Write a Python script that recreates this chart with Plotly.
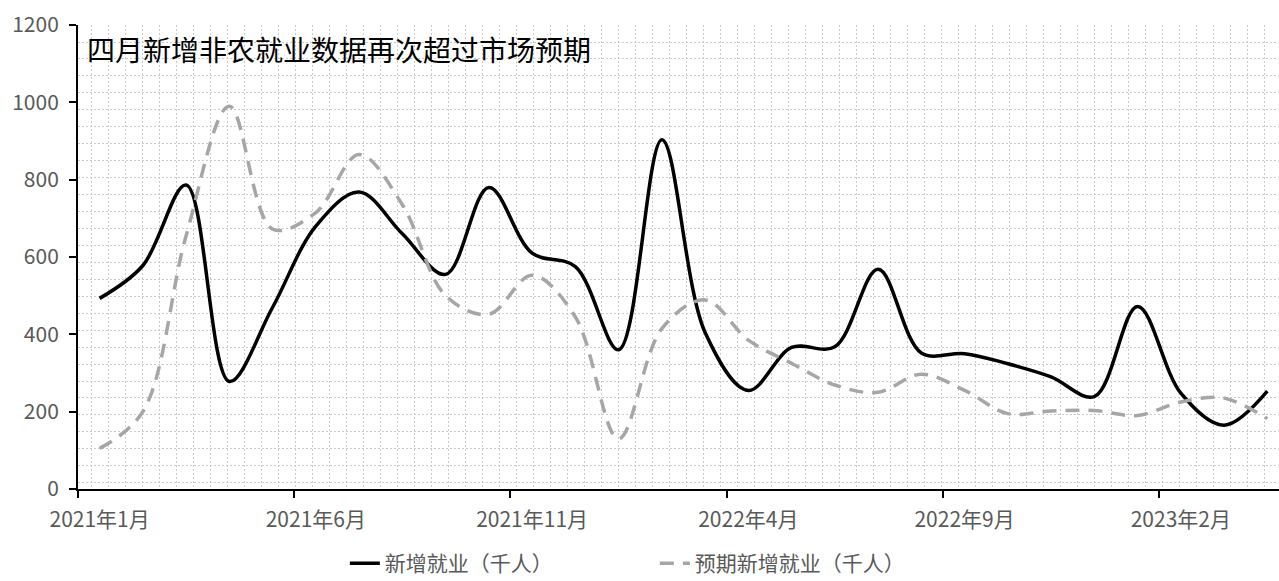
import plotly.graph_objects as go

# 月份（2021年1月 — 2023年4月）
months = [f"{y}年{m}月" for y, m in
          [(2021, m) for m in range(1, 13)] +
          [(2022, m) for m in range(1, 13)] +
          [(2023, m) for m in range(1, 5)]]

# 新增非农就业（千人）
actual = [493, 578, 786, 278, 470, 680, 768, 660, 555, 780, 610, 575,
          360, 903, 405, 255, 366, 368, 568, 352, 350, 324, 290, 239,
          472, 248, 165, 253]

# 市场预期（千人）
expected = [105, 200, 655, 990, 672, 715, 865, 735, 500, 452, 553, 445,
            130, 415, 489, 385, 325, 269, 250, 297, 255, 195, 202, 203,
            190, 225, 235, 182]

y_ticks = [0, 200, 400, 600, 800, 1000, 1200]

W, H = 1279, 581
ML, MR, MT, MB = 78, 0, 25, 92
PW, PH = W - ML - MR, H - MT - MB

FONT = "Noto Sans CJK SC"
LABEL_GREY = "#595959"
LABEL_SIZE = 21

fig = go.Figure()

# 背景点状方格（像素坐标）
fig.add_trace(go.Scatter(x=[None], y=[None], xaxis="x2", yaxis="y2",
                         showlegend=False, hoverinfo="skip"))

fig.add_trace(go.Scatter(
    x=months, y=actual, name="新增就业（千人）", mode="lines",
    line=dict(color="#000000", width=3.5, shape="spline", smoothing=1),
))
fig.add_trace(go.Scatter(
    x=months, y=expected, name="预期新增就业（千人）", mode="lines",
    line=dict(color="#a6a6a6", width=3.5, shape="spline", smoothing=1,
              dash="14px,9px"),
))

fig.update_layout(
    width=W, height=H, autosize=False,
    margin=dict(l=ML, r=MR, t=MT, b=MB, pad=0),
    paper_bgcolor="white", plot_bgcolor="white",
    font=dict(family=FONT, size=LABEL_SIZE, color=LABEL_GREY),
    xaxis=dict(
        type="category", categoryorder="array", categoryarray=months,
        range=[-0.5, 27.27], tickmode="linear", tick0=0, dtick=5,
        tickson="boundaries", ticks="outside", ticklen=7, tickwidth=2,
        tickcolor="black", showline=True, linecolor="black", linewidth=2,
        showgrid=False, zeroline=False, tickangle=0, automargin=False,
        ticklabelstandoff=11,
        tickfont=dict(family=FONT, size=LABEL_SIZE, color=LABEL_GREY),
    ),
    yaxis=dict(
        range=[0, 1200], tickvals=y_ticks, ticks="outside", ticklen=7,
        tickwidth=2, tickcolor="black", showline=True, linecolor="black",
        linewidth=2, showgrid=False, zeroline=False, ticklabelstandoff=6,
        automargin=False,
        tickfont=dict(family=FONT, size=LABEL_SIZE, color=LABEL_GREY),
    ),
    xaxis2=dict(
        overlaying="x", anchor="y2", range=[0, PW], tick0=13.7, dtick=17,
        showgrid=True, gridcolor="#cccccc", gridwidth=1, griddash="2px,2px",
        showticklabels=False, ticks="", zeroline=False, showline=False,
        automargin=False,
    ),
    yaxis2=dict(
        overlaying="y", anchor="x2", range=[0, PH], tick0=6.3, dtick=16.95,
        showgrid=True, gridcolor="#cccccc", gridwidth=1, griddash="2px,2px",
        showticklabels=False, ticks="", zeroline=False, showline=False,
        automargin=False,
    ),
    legend=dict(
        orientation="h", xref="container", yref="container",
        x=0.512, xanchor="center", y=0.03, yanchor="middle",
        font=dict(family=FONT, size=LABEL_SIZE, color=LABEL_GREY),
        bgcolor="rgba(0,0,0,0)", entrywidthmode="pixels", entrywidth=265,
    ),
    annotations=[dict(
        text="四月新增非农就业数据再次超过市场预期",
        xref="paper", yref="paper", x=0.006, y=0.995,
        xanchor="left", yanchor="top", showarrow=False,
        font=dict(family=FONT, size=28, color="#000000"),
    )],
    showlegend=True,
)

fig.write_html("out.html")
